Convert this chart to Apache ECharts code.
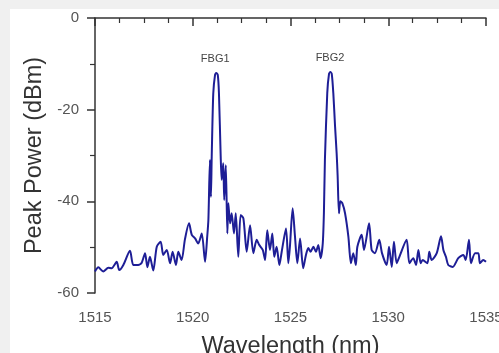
<!DOCTYPE html>
<html><head><meta charset="utf-8">
<script src="https://cdn.jsdelivr.net/npm/echarts@6/dist/echarts.min.js"></script>
<style>html,body{margin:0;padding:0;background:#f0f0f0;}#c{width:499px;height:353px;}</style>
</head><body><div id="c"></div>
<script>
const wavelength = [1515.00,1515.17,1515.42,1515.68,1515.85,1516.11,1516.24,1516.45,1516.79,1516.96,1517.21,1517.39,1517.56,1517.68,1517.81,1517.98,1518.16,1518.36,1518.49,1518.67,1518.84,1518.97,1519.14,1519.26,1519.43,1519.60,1519.81,1519.95,1520.12,1520.28,1520.46,1520.63,1520.74,1520.80,1520.88,1520.93,1520.97,1521.05,1521.14,1521.20,1521.28,1521.34,1521.43,1521.48,1521.56,1521.61,1521.69,1521.77,1521.82,1521.91,1521.99,1522.11,1522.20,1522.33,1522.45,1522.59,1522.76,1522.93,1523.10,1523.27,1523.40,1523.58,1523.70,1523.81,1523.95,1524.07,1524.17,1524.29,1524.43,1524.55,1524.77,1524.89,1524.97,1525.11,1525.23,1525.35,1525.49,1525.65,1525.79,1525.91,1526.03,1526.17,1526.30,1526.42,1526.54,1526.65,1526.71,1526.76,1526.88,1526.97,1527.04,1527.11,1527.19,1527.28,1527.36,1527.41,1527.48,1527.55,1527.65,1527.79,1527.96,1528.09,1528.21,1528.34,1528.42,1528.64,1528.76,1529.02,1529.15,1529.32,1529.54,1529.68,1529.92,1530.04,1530.18,1530.29,1530.43,1530.57,1530.94,1531.08,1531.28,1531.42,1531.54,1531.66,1531.76,1532.00,1532.10,1532.22,1532.48,1532.70,1532.82,1532.95,1533.07,1533.30,1533.58,1533.84,1533.96,1534.13,1534.23,1534.44,1534.61,1534.69,1534.86,1535.00];
const power = [-55.3,-54.4,-55.3,-54.5,-54.6,-53.2,-55.0,-53.9,-50.8,-53.9,-53.9,-53.4,-51.3,-54.4,-52.1,-55.1,-49.9,-48.8,-51.7,-50.6,-53.5,-51.0,-53.9,-51.0,-52.8,-48.3,-44.8,-47.3,-48.1,-49.2,-47.0,-53.2,-47.7,-44.0,-31.0,-39.0,-30.3,-16.4,-12.4,-12.0,-12.4,-16.4,-30.3,-35.3,-31.7,-39.7,-32.1,-47.0,-40.4,-44.8,-42.6,-47.0,-42.6,-52.1,-43.0,-43.7,-51.0,-45.2,-51.3,-48.4,-49.5,-50.6,-52.8,-46.3,-50.6,-47.0,-52.1,-49.9,-53.9,-51.0,-45.9,-53.5,-49.9,-41.5,-47.7,-53.5,-48.1,-54.6,-51.7,-50.2,-51.0,-49.9,-51.0,-49.5,-52.4,-49.2,-42.3,-31.0,-16.4,-12.2,-11.8,-12.2,-16.4,-23.7,-29.5,-34.3,-42.6,-40.0,-40.4,-42.6,-47.7,-53.5,-51.3,-53.9,-49.9,-47.3,-50.6,-44.8,-50.6,-51.3,-48.4,-51.3,-53.9,-49.9,-54.3,-48.8,-53.5,-52.1,-48.4,-53.5,-52.4,-53.9,-50.6,-53.5,-52.8,-53.5,-51.0,-52.8,-51.3,-47.6,-50.6,-52.1,-53.9,-54.3,-52.4,-51.7,-52.8,-48.4,-53.5,-51.3,-51.3,-53.5,-52.8,-53.2];
const peakLabels = [{name:'FBG1', x:1521.15, y:-12.0},{name:'FBG2', x:1527.02, y:-11.8}];
const xTicks = {min:1515, max:1535, step:5};
const yTicks = {min:-60, max:0, step:20};

const chart = echarts.init(document.getElementById('c'));
const axisCol = '#333';
const ff = 'Liberation Sans, Arial';
chart.setOption({
  animation:false,
  backgroundColor:'transparent',
  graphic:[{type:'rect', left:10, top:9, shape:{width:489, height:344}, style:{fill:'#ffffff'}, z:-10}],
  grid:{left:95, top:18, right:13, bottom:60, containLabel:false, outerBoundsMode:'none'},
  xAxis:{type:'value', min:xTicks.min, max:xTicks.max, interval:xTicks.step,
    name:'Wavelength (nm)', nameLocation:'middle', nameGap:42,
    nameTextStyle:{fontSize:23.5, color:'#333', fontFamily:ff},
    axisLine:{lineStyle:{color:axisCol, width:1.5}},
    axisTick:{length:8, lineStyle:{color:axisCol, width:1.5}},
    minorTick:{show:true, splitNumber:4, length:5, lineStyle:{color:axisCol, width:1.2}},
    axisLabel:{fontSize:15, color:'#555', margin:17, fontFamily:ff, formatter:v=>String(v), hideOverlap:false},
    splitLine:{show:false}},
  yAxis:{type:'value', min:yTicks.min, max:yTicks.max, interval:yTicks.step,
    name:'Peak Power (dBm)', nameLocation:'middle', nameGap:45,
    nameTextStyle:{fontSize:23.5, color:'#333', fontFamily:ff},
    axisLine:{show:true, lineStyle:{color:axisCol, width:1.5}},
    axisTick:{show:true, length:8, lineStyle:{color:axisCol, width:1.5}},
    minorTick:{show:true, splitNumber:2, length:5, lineStyle:{color:axisCol, width:1.2}},
    axisLabel:{fontSize:15, color:'#555', margin:16, fontFamily:ff, formatter:v=>String(v)},
    splitLine:{show:false}},
  series:[{type:'line', data:wavelength.map((w,i)=>[w,power[i]]), showSymbol:false, smooth:0.25,
    lineStyle:{color:'#1e1e96', width:2},
    markPoint:{symbol:'circle', symbolSize:0,
      label:{show:true, position:'top', distance:9, color:'#444', fontSize:11, fontFamily:ff, formatter:p=>p.name},
      data:peakLabels.map(p=>({name:p.name, coord:[p.x,p.y]}))}
  }]
});
</script></body></html>
